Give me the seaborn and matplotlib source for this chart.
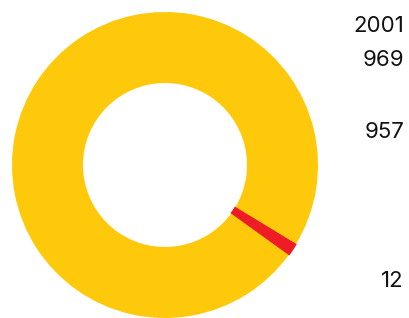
import matplotlib
matplotlib.use("Agg")
import matplotlib.pyplot as plt
import seaborn as sns

categories = ["A", "B"]
values = [957, 12]
labels = ["2001", "969", "957", "12"]
colors = ["#FEC80B", "#EE1D25"]

sns.set_theme(style="white")
plt.rcParams['font.family'] = ['Inter', 'Liberation Sans', 'DejaVu Sans']

fig = plt.figure(figsize=(4.09, 3.18), dpi=100)
W, H = 409, 318
ax = fig.add_axes([12 / W, 0, 306 / W, 306 / H])
wedges, _ = ax.pie(values, colors=colors, startangle=-31.3, counterclock=True,
                   radius=1.0, wedgeprops=dict(width=1 - 82 / 153, linewidth=0))
wedges[1].set_edgecolor(colors[1])
wedges[1].set_linewidth(1.1)
wedges[1].set_zorder(3)
ax.set_xlim(-1, 1)
ax.set_ylim(-1, 1)
ax.set_aspect("equal")
ax.axis("off")

ypos = [26, 59.5, 132, 281]
for lab, y in zip(labels, ypos):
    fig.text(404 / W, 1 - y / H, lab, ha="right", va="center", fontsize=16, color="#111111")

fig.savefig("out.png", dpi=100)
